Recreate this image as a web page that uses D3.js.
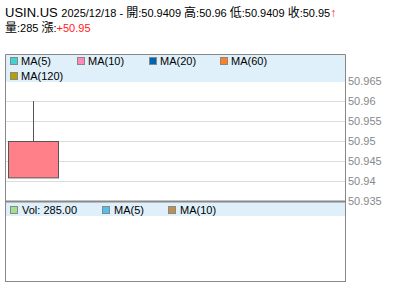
<!DOCTYPE html>
<html>
<head>
<meta charset="utf-8">
<script src="https://cdn.jsdelivr.net/npm/d3@7"></script>
<style>
body { margin: 0; background: #fff; }
svg { display: block; font-family: "Liberation Sans", Arial, "Noto Sans CJK TC", sans-serif; }
.cjk { font-family: "Noto Sans CJK TC", sans-serif; }
</style>
</head>
<body>
<div id="chart"></div>
<script>
// data
var symbol = "USIN.US";
var dates = ["2025/12/18"];
var opens = [50.9409];
var highs = [50.96];
var lows = [50.9409];
var closes = [50.95];
var volumes = [285];
var changes = [50.95];

var priceTicks = [50.935, 50.94, 50.945, 50.95, 50.955, 50.96, 50.965];
var maNames = ["MA(5)", "MA(10)", "MA(20)", "MA(60)", "MA(120)"];
var maColors = ["#40d4d0", "#ff88b8", "#0064b4", "#ff8020", "#b4a000"];
var volNames = ["Vol: 285.00", "MA(5)", "MA(10)"];
var volColors = ["#a4e08c", "#50c0f0", "#c09050"];

var margin = {left: 5, right: 55, top: 54, bottom: 19};
var width = 400, height = 301;
var mainBottom = 201, volTop = 202;

var svg = d3.select("#chart").append("svg")
	.attr("width", width)
	.attr("height", height);

// header
var last = dates.length - 1;
var head1 = svg.append("text").attr("x", 5).attr("y", 17).attr("fill", "#000");
head1.append("tspan").attr("font-size", 13).text(symbol + " ");
head1.append("tspan").attr("font-size", 11).text(dates[last] + " - ");
[["開", opens[last]], ["高", highs[last]], ["低", lows[last]], ["收", closes[last]]].forEach(function(p, i) {
	head1.append("tspan").attr("class", "cjk").attr("font-size", 12).text(p[0]);
	head1.append("tspan").attr("font-size", 11).text(":" + p[1] + (i < 3 ? " " : ""));
});
head1.append("tspan").attr("fill", "#ff1a1a").attr("font-size", 12).attr("font-weight", "bold").text("↑");

var head2 = svg.append("text").attr("x", 5).attr("y", 31.5).attr("fill", "#000");
head2.append("tspan").attr("class", "cjk").attr("font-size", 12).text("量");
head2.append("tspan").attr("font-size", 11).text(":" + volumes[last] + " ");
head2.append("tspan").attr("class", "cjk").attr("font-size", 12).text("漲");
head2.append("tspan").attr("font-size", 11).text(":");
head2.append("tspan").attr("font-size", 11).attr("fill", "#ff2020").text("+" + changes[last]);

var x0 = margin.left, x1 = width - margin.right;

// scales
var y = d3.scaleLinear().domain([50.935, 50.965]).range([mainBottom, 81]);
var x = d3.scaleBand().domain(d3.range(6)).range([x0, x1]).paddingInner(0.12).paddingOuter(0.053);

// main panel gridlines
svg.append("g").selectAll("line").data(priceTicks).enter().append("line")
	.attr("x1", x0).attr("x2", x1)
	.attr("y1", function(d) { return Math.round(y(d)) + 0.5; })
	.attr("y2", function(d) { return Math.round(y(d)) + 0.5; })
	.attr("stroke", "#dcdcdc");

// main legend band
svg.append("rect").attr("x", x0).attr("y", margin.top).attr("width", x1 - x0).attr("height", 28).attr("fill", "#dff0fa");
var legPos = [[10, 57], [77, 57], [149, 57], [220, 57], [10, 72]];
var leg = svg.append("g").selectAll("g").data(maNames).enter().append("g")
	.attr("transform", function(d, i) { return "translate(" + legPos[i][0] + "," + legPos[i][1] + ")"; });
leg.append("rect").attr("x", 0.5).attr("y", 0.5).attr("width", 7).attr("height", 7)
	.attr("fill", function(d, i) { return maColors[i]; }).attr("stroke", "#888");
leg.append("text").attr("x", 11).attr("y", 8).attr("font-size", 11).attr("fill", "#000").text(function(d) { return d; });

// candles
var candles = svg.append("g").selectAll("g").data(dates).enter().append("g");
candles.append("line")
	.attr("x1", function(d, i) { return Math.round(x(i) + x.bandwidth() / 2) + 0.5; })
	.attr("x2", function(d, i) { return Math.round(x(i) + x.bandwidth() / 2) + 0.5; })
	.attr("y1", function(d, i) { return y(highs[i]); })
	.attr("y2", function(d, i) { return y(Math.max(opens[i], closes[i])); })
	.attr("stroke", "#555");
candles.append("rect")
	.attr("x", function(d, i) { return Math.round(x(i)) + 0.5; })
	.attr("y", function(d, i) { return Math.round(y(Math.max(opens[i], closes[i]))) + 0.5; })
	.attr("width", Math.round(x.bandwidth()))
	.attr("height", function(d, i) { return Math.abs(y(opens[i]) - y(closes[i])); })
	.attr("fill", function(d, i) { return closes[i] >= opens[i] ? "#ff8088" : "#80c080"; })
	.attr("stroke", "#555");

// price axis labels
svg.append("g").selectAll("text").data(priceTicks).enter().append("text")
	.attr("x", x1 + 3)
	.attr("y", function(d) { return y(d) + 4; })
	.attr("font-size", 11)
	.attr("fill", "#888")
	.text(function(d) { return d3.format("")(+d.toFixed(3)); });

// main frame
svg.append("path")
	.attr("d", "M" + (x0 + 0.5) + "," + mainBottom + "V" + (margin.top + 0.5) + "H" + (x1 + 0.5) + "V" + mainBottom)
	.attr("fill", "none").attr("stroke", "#888");
svg.append("line").attr("x1", x0).attr("x2", x1 + 1).attr("y1", mainBottom + 0.5).attr("y2", mainBottom + 0.5)
	.attr("stroke", "#888").attr("stroke-width", 2);

// volume panel
var volBottom = height - margin.bottom - 0.5;
svg.append("rect").attr("x", x0).attr("y", volTop).attr("width", x1 - x0).attr("height", 14).attr("fill", "#dff0fa");
var vPos = [10, 102, 168];
var vleg = svg.append("g").selectAll("g").data(volNames).enter().append("g")
	.attr("transform", function(d, i) { return "translate(" + vPos[i] + ",206)"; });
vleg.append("rect").attr("x", 0.5).attr("y", 0.5).attr("width", 7).attr("height", 7)
	.attr("fill", function(d, i) { return volColors[i]; }).attr("stroke", "#888");
vleg.append("text").attr("x", 12).attr("y", 8).attr("font-size", 11).attr("fill", "#000").text(function(d) { return d; });
svg.append("rect").attr("x", x0 + 0.5).attr("y", volTop).attr("width", x1 - x0).attr("height", volBottom - volTop)
	.attr("fill", "none").attr("stroke", "#888");
</script>
</body>
</html>
